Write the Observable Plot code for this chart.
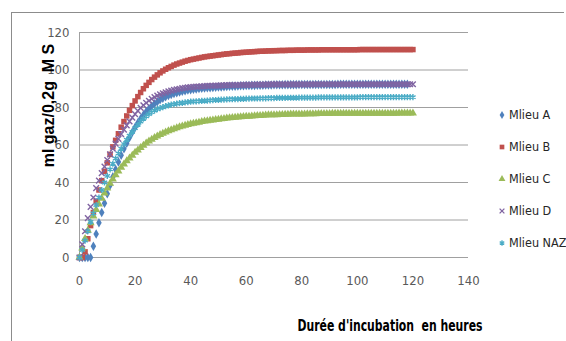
<!DOCTYPE html>
<html>
<head>
<meta charset="utf-8">
<script src="https://cdn.jsdelivr.net/npm/d3@7"></script>
<script src="https://cdn.jsdelivr.net/npm/@observablehq/plot@0.6"></script>
<style>
  body { margin: 0; background: #fff; overflow: hidden; }
  #chart { position: relative; width: 566px; height: 341px; overflow: hidden; }
  #frame { position: absolute; left: 11px; top: 12px; width: 552px; height: 400px;
           border-top: 1px solid #8c8c8c; border-left: 1px solid #8c8c8c; pointer-events: none; }
  #chart svg { position: absolute; left: 0; top: 0; }
</style>
</head>
<body>
<div id="chart"><div id="frame"></div></div>
<script>
// Incubation time (hours), one reading per hour
const hours = [0,1,2,3,4,5,6,7,8,9,10,11,12,13,14,15,16,17,18,19,20,21,22,23,24,25,26,27,28,29,30,
  31,32,33,34,35,36,37,38,39,40,41,42,43,44,45,46,47,48,49,50,51,52,53,54,55,56,57,58,59,60,
  61,62,63,64,65,66,67,68,69,70,71,72,73,74,75,76,77,78,79,80,81,82,83,84,85,86,87,88,89,90,
  91,92,93,94,95,96,97,98,99,100,101,102,103,104,105,106,107,108,109,110,111,112,113,114,115,116,117,118,119,120];

// Cumulative gas volume (ml gaz / 0,2 g MS) per medium
const mlieuA = [0,0,0,0,0,6,12.5,18.5,24,29,34,38.5,43,47,51,54.5,58,61,64,66.8,69.4,
  71.8,74,76,77.8,79.4,80.8,82,83.1,84.1,85,85.7,86.4,87,87.5,87.9,88.3,88.7,89,89.3,89.5,
  89.7,89.9,90.1,90.3,90.4,90.5,90.6,90.7,90.8,90.9,91,91.1,91.2,91.3,91.4,91.4,91.5,91.6,91.6,91.7,
  91.7,91.8,91.8,91.9,91.9,91.9,92,92,92,92.1,92.1,92.1,92.1,92.2,92.2,92.2,92.2,92.2,92.3,92.3,
  92.3,92.3,92.3,92.3,92.3,92.3,92.3,92.3,92.3,92.3,92.3,92.3,92.4,92.4,92.4,92.4,92.4,92.4,92.4,92.4,
  92.4,92.4,92.4,92.4,92.4,92.4,92.4,92.4,92.4,92.4,92.4,92.4,92.4,92.4,92.4,92.4,92.4,92.4];

const mlieuB = [0,0,3,10,17,24,30,36,41,46,50.5,55,59,62.5,66,69.5,72.5,75.5,78.5,81,83.5,
  85.8,88,90,91.8,93.4,94.9,96.2,97.4,98.5,99.5,100.4,101.2,101.9,102.6,103.2,103.7,104.2,104.7,105.1,105.5,
  105.8,106.1,106.4,106.7,107,107.2,107.4,107.6,107.8,108,108.2,108.4,108.6,108.7,108.9,109,109.1,109.3,109.4,109.5,
  109.6,109.7,109.8,109.9,110,110,110.1,110.2,110.2,110.3,110.3,110.4,110.4,110.4,110.5,110.5,110.5,110.6,110.6,110.6,
  110.6,110.7,110.7,110.7,110.7,110.7,110.8,110.8,110.8,110.8,110.8,110.8,110.8,110.8,110.8,110.8,110.8,110.8,110.8,110.8,
  110.9,110.9,110.9,110.9,110.9,110.9,110.9,110.9,110.9,110.9,110.9,110.9,110.9,110.9,110.9,110.9,110.9,110.9,110.9,110.9];

const mlieuC = [0,5,10,14.5,18.5,22,25.5,28.5,31.5,34.3,37,39.5,41.8,44,46,48,49.8,51.5,53,54.5,56,
  57.3,58.6,59.8,61,62,63,63.9,64.7,65.5,66.2,66.9,67.5,68.1,68.6,69.1,69.6,70,70.4,70.8,71.2,
  71.5,71.8,72.1,72.4,72.7,72.9,73.1,73.3,73.5,73.7,73.9,74.1,74.3,74.4,74.6,74.7,74.9,75,75.1,75.2,
  75.3,75.4,75.5,75.6,75.7,75.8,75.9,76,76,76.1,76.1,76.2,76.2,76.3,76.3,76.4,76.4,76.4,76.5,76.5,
  76.5,76.6,76.6,76.6,76.6,76.7,76.7,76.7,76.7,76.7,76.8,76.8,76.8,76.8,76.8,76.8,76.8,76.8,76.8,76.8,
  76.8,76.8,76.8,76.9,76.9,76.9,76.9,76.9,76.9,76.9,76.9,76.9,76.9,76.9,77,77,77,77,77,77];

const mlieuD = [0,7,14,21,27,32,37,41,45,48.5,52,55,58,60.7,63.3,65.8,68.2,70.5,72.6,74.6,76.5,
  78.2,79.8,81.2,82.5,83.6,84.6,85.5,86.3,87,87.6,88.1,88.6,89,89.4,89.7,90,90.3,90.5,90.7,90.9,
  91,91.1,91.2,91.3,91.4,91.5,91.6,91.6,91.7,91.7,91.8,91.8,91.9,91.9,91.9,92,92,92,92.1,92.1,
  92.1,92.1,92.2,92.2,92.2,92.2,92.2,92.3,92.3,92.3,92.3,92.3,92.3,92.3,92.3,92.3,92.3,92.3,92.3,92.3,
  92.3,92.3,92.3,92.4,92.4,92.4,92.4,92.4,92.4,92.4,92.4,92.4,92.4,92.4,92.4,92.4,92.4,92.4,92.4,92.4,
  92.4,92.4,92.4,92.4,92.4,92.4,92.4,92.4,92.4,92.4,92.4,92.4,92.4,92.4,92.4,92.4,92.4,92.4,92.4,92.4];

const mlieuNAZ = [0,4,9,14,19,23.5,28,32,36,40,43.5,47,50,52.8,55.5,58,60.5,62.8,65,67,69,
  70.8,72.5,74,75.3,76.5,77.5,78.4,79.1,79.7,80.2,80.7,81.1,81.5,81.8,82.1,82.3,82.5,82.7,82.9,83.1,
  83.2,83.3,83.4,83.5,83.6,83.7,83.8,83.9,84,84.1,84.2,84.2,84.3,84.4,84.4,84.5,84.5,84.6,84.6,84.7,
  84.7,84.8,84.8,84.8,84.9,84.9,84.9,85,85,85,85.1,85.1,85.1,85.1,85.2,85.2,85.2,85.2,85.3,85.3,
  85.3,85.3,85.3,85.3,85.3,85.4,85.4,85.4,85.4,85.4,85.4,85.4,85.4,85.4,85.4,85.4,85.4,85.4,85.4,85.4,
  85.5,85.5,85.5,85.5,85.5,85.5,85.5,85.5,85.5,85.5,85.5,85.5,85.5,85.5,85.5,85.5,85.5,85.5,85.5,85.5];

const seriesNames = ["Mlieu A", "Mlieu B", "Mlieu C", "Mlieu D", "Mlieu NAZ"];
const seriesValues = [mlieuA, mlieuB, mlieuC, mlieuD, mlieuNAZ];
const xTicks = [0, 20, 40, 60, 80, 100, 120, 140];
const yTicks = [0, 20, 40, 60, 80, 100, 120];
const xTitle = "Durée d'incubation\u00a0 en heures";
const yTitle = "ml gaz/0,2g\u00a0 M S";

// Marker style per medium
const colors = ["#4F81BD", "#C0504D", "#9BBB59", "#8064A2", "#4BACC6"];
const symbols = ["diamond", "square", "triangle", "times", "asterisk"];
const filled = [true, true, true, false, false];
const radii = [2.9, 3.1, 3.0, 2.7, 2.9];

const rows = seriesNames.map((name, k) =>
  seriesValues[k].map((v, i) => ({name, h: hours[i], v})));

const font = "'DejaVu Sans Condensed', 'Liberation Sans', sans-serif";

const dotMarks = rows.map((data, k) => filled[k]
  ? Plot.dot(data, {x: "h", y: "v", symbol: () => symbols[k], r: radii[k], fill: colors[k], stroke: "none"})
  : Plot.dot(data, {x: "h", y: "v", symbol: () => symbols[k], r: radii[k], stroke: colors[k], strokeWidth: 1.4, fill: "none"}));

const chart = Plot.plot({
  width: 566,
  height: 341,
  marginLeft: 79,
  marginRight: 98,
  marginTop: 32,
  marginBottom: 84,
  style: {fontFamily: font, fontSize: "13px", background: "transparent", overflow: "visible"},
  x: {domain: [0, 140]},
  y: {domain: [0, 120]},
  symbol: {type: "identity"},
  marks: [
    Plot.ruleY(yTicks, {stroke: "#a0a0a0", strokeWidth: 1}),
    Plot.ruleX([0], {stroke: "#a0a0a0", strokeWidth: 1}),
    Plot.axisY({ticks: yTicks, tickSize: 0, tickPadding: 10, fill: "#595959", label: null, fontSize: 13}),
    Plot.axisX({ticks: xTicks, tickSize: 0, tickPadding: 18, fill: "#595959", label: null, fontSize: 13}),
    ...dotMarks,
    Plot.text([yTitle], {text: d => d, frameAnchor: "top-left", dx: -37, dy: 73, rotate: -90,
      textAnchor: "middle", fontWeight: "bold", fontSize: 16, fill: "#000",
      fontFamily: "'Liberation Sans', Arial, sans-serif"}),
    Plot.text([xTitle], {text: d => d, frameAnchor: "bottom", dx: 116, dy: 73,
      textAnchor: "middle", fontWeight: "bold", fontSize: 15, fill: "#000", className: "xtitle"})
  ]
});

// Fit the x-axis title to its drawn length
const svg = d3.select(chart);
svg.selectAll(".xtitle text").attr("textLength", 185).attr("lengthAdjust", "spacingAndGlyphs");

// Legend on the right: marker + medium name
const legend = svg.append("g").attr("font-family", font).attr("font-size", 12.5)
  .attr("text-anchor", "start");
const legendSymbols = {diamond: d3.symbolDiamond, square: d3.symbolSquare, triangle: d3.symbolTriangle,
  times: d3.symbolTimes, asterisk: d3.symbolAsterisk};
seriesNames.forEach((name, k) => {
  const y = 115 + k * 32;
  const r = radii[k] * 0.85;
  const path = legend.append("path")
    .attr("transform", `translate(502,${y})`)
    .attr("d", d3.symbol(legendSymbols[symbols[k]], Math.PI * r * r)());
  if (filled[k]) path.attr("fill", colors[k]);
  else path.attr("fill", "none").attr("stroke", colors[k]).attr("stroke-width", 1.3);
  legend.append("text").attr("x", 509).attr("y", y).attr("dy", "0.35em")
    .attr("text-anchor", "start").attr("fill", "#262626").text(name);
});

document.getElementById("chart").appendChild(chart);
</script>
</body>
</html>
